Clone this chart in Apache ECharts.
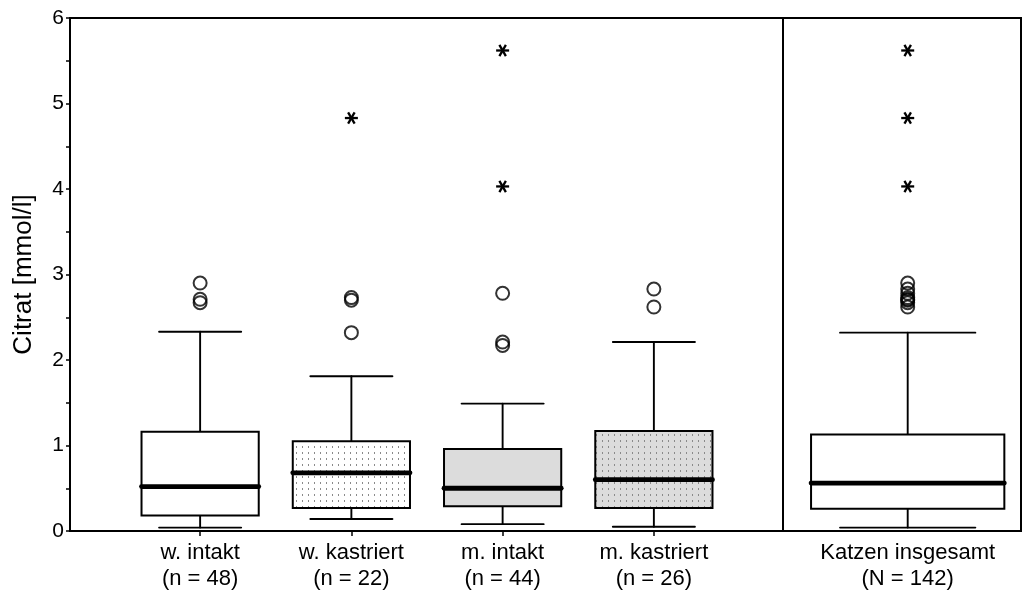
<!DOCTYPE html>
<html><head><meta charset="utf-8">
<script src="https://cdn.jsdelivr.net/npm/echarts@6/dist/echarts.min.js"></script>
<style>html,body{margin:0;padding:0;background:#fff}#c{width:1023px;height:595px}</style>
</head><body><div id="c"></div>
<script>
// ---- data ----
const groupCategories = ['w. intakt\n(n = 48)', 'w. kastriert\n(n = 22)', 'm. intakt\n(n = 44)', 'm. kastriert\n(n = 26)'];
// [min, Q1, median, Q3, max]
const groupBoxes = [
  [0.04, 0.18, 0.52, 1.16, 2.33],
  [0.14, 0.27, 0.68, 1.05, 1.81],
  [0.08, 0.29, 0.50, 0.96, 1.49],
  [0.05, 0.27, 0.60, 1.17, 2.21]
];
const groupOutliers = [[2.90, 2.71, 2.67], [2.73, 2.70, 2.32], [2.78, 2.21, 2.17], [2.83, 2.62]];
const groupExtremes = [[], [4.83], [5.62, 4.03], []];
const totalCategories = ['Katzen insgesamt\n(N = 142)'];
const totalBoxes = [[0.04, 0.26, 0.56, 1.13, 2.32]];
const totalOutliers = [[2.90, 2.83, 2.78, 2.73, 2.71, 2.70, 2.67, 2.62]];
const totalExtremes = [[5.62, 4.83, 4.03]];
const yTicks = [0, 1, 2, 3, 4, 5, 6];
const yTitle = 'Citrat [mmol/l]';

// ---- styles ----
const FONT = '"Liberation Sans", Arial, Helvetica, sans-serif';
function dotPattern(bg) {
  const c = document.createElement('canvas');
  c.width = 6; c.height = 6;
  const g = c.getContext('2d');
  g.fillStyle = bg; g.fillRect(0, 0, 6, 6);
  g.fillStyle = '#8a8a8a'; g.fillRect(2, 2, 1, 2);
  return { image: c, repeat: 'repeat' };
}
const groupFills = ['#ffffff', dotPattern('#ffffff'), '#dcdcdc', dotPattern('#dcdcdc')];
const totalFills = ['#ffffff'];

function boxData(boxes) { return boxes.map((b, i) => [i].concat(b)); }
function pointData(lists) {
  const out = [];
  lists.forEach((l, i) => l.forEach(v => out.push([i, v])));
  return out;
}

function makeBoxRender(fills) {
  return function (params, api) {
    const x = api.value(0);
    const mn = api.value(1), q1 = api.value(2), md = api.value(3), q3 = api.value(4), mx = api.value(5);
    const band = api.size([1, 0])[0];
    const bw = band * 0.775, cw = bw * 0.70;
    const cx = api.coord([x, 0])[0];
    const py = v => api.coord([x, v])[1];
    const ln = (x1, y1, x2, y2, w) => ({ type: 'line', shape: { x1, y1, x2, y2 }, style: { stroke: '#000', lineWidth: w, lineCap: 'round' } });
    return {
      type: 'group',
      children: [
        ln(cx, py(q3), cx, py(mx), 1.9),
        ln(cx, py(mn), cx, py(q1), 1.9),
        ln(cx - cw / 2, py(mx), cx + cw / 2, py(mx), 1.9),
        ln(cx - cw / 2, py(mn), cx + cw / 2, py(mn), 1.9),
        { type: 'rect', shape: { x: cx - bw / 2, y: py(q3), width: bw, height: py(q1) - py(q3) },
          style: { fill: fills[x], stroke: '#000', lineWidth: 2 } },
        ln(cx - bw / 2, py(md), cx + bw / 2, py(md), 4.8)
      ]
    };
  };
}
function starRender(params, api) {
  const p = api.coord([api.value(0), api.value(1)]);
  const r = 6.5;
  const a = Math.PI / 3;
  const seg = ang => ({ type: 'line', shape: { x1: p[0] - r * Math.cos(ang), y1: p[1] - r * Math.sin(ang), x2: p[0] + r * Math.cos(ang), y2: p[1] + r * Math.sin(ang) }, style: { stroke: '#000', lineWidth: 2.3 } });
  return { type: 'group', children: [seg(0), seg(a), seg(-a)] };
}

const TOP = 18, HEIGHT = 513;
const yMin = yTicks[0], yMax = yTicks[yTicks.length - 1];
const hiddenY = i => ({ gridIndex: i, type: 'value', min: yMin, max: yMax, show: false });
const hiddenX = i => ({ gridIndex: i, type: 'category', data: [''], show: false });
const labelX = (i, data, tick) => ({
  gridIndex: i, type: 'category', data,
  axisLine: { show: false },
  axisTick: { show: tick, alignWithLabel: true, length: 5, lineStyle: { color: '#000', width: 1.5 } },
  axisLabel: { color: '#000', fontSize: 22, fontFamily: FONT, lineHeight: 26, margin: 9, interval: 0 },
  splitLine: { show: false }
});
const gridBase = { top: TOP, height: HEIGHT, containLabel: false, outerBoundsMode: 'none' };

const option = {
  animation: false,
  backgroundColor: '#fff',
  grid: [
    Object.assign({ left: 70, width: 713, show: true, borderColor: '#000', borderWidth: 2, backgroundColor: 'transparent' }, gridBase),
    Object.assign({ left: 783, width: 238, show: true, borderColor: '#000', borderWidth: 2, backgroundColor: 'transparent' }, gridBase),
    Object.assign({ left: 124.5, width: 605 }, gridBase),
    Object.assign({ left: 783, width: 249.4 }, gridBase)
  ],
  xAxis: [hiddenX(0), hiddenX(1), labelX(2, groupCategories, true), labelX(3, totalCategories, false)],
  yAxis: [
    {
      gridIndex: 0, type: 'value', min: yMin, max: yMax, interval: 1,
      name: yTitle, nameLocation: 'middle', nameRotate: 90, nameGap: 33,
      nameTextStyle: { color: '#000', fontSize: 26, fontFamily: FONT },
      axisLine: { show: true, lineStyle: { color: '#000', width: 2 } },
      axisTick: { show: true, length: 4, lineStyle: { color: '#000', width: 1.5 } },
      minorTick: { show: true, splitNumber: 2, length: 4, lineStyle: { color: '#000', width: 1.5 } },
      axisLabel: { color: '#000', fontSize: 21, fontFamily: FONT, margin: 6 },
      splitLine: { show: false }
    },
    hiddenY(1), hiddenY(2), hiddenY(3)
  ],
  series: [
    { type: 'custom', xAxisIndex: 2, yAxisIndex: 2, renderItem: makeBoxRender(groupFills), data: boxData(groupBoxes), z: 2 },
    { type: 'custom', xAxisIndex: 3, yAxisIndex: 3, renderItem: makeBoxRender(totalFills), data: boxData(totalBoxes), z: 2 },
    { type: 'scatter', xAxisIndex: 2, yAxisIndex: 2, data: pointData(groupOutliers), symbol: 'circle', symbolSize: 13,
      itemStyle: { color: 'rgba(0,0,0,0)', borderColor: '#000', borderWidth: 2 }, z: 3 },
    { type: 'scatter', xAxisIndex: 3, yAxisIndex: 3, data: pointData(totalOutliers), symbol: 'circle', symbolSize: 13,
      itemStyle: { color: 'rgba(0,0,0,0)', borderColor: '#000', borderWidth: 2 }, z: 3 },
    { type: 'custom', xAxisIndex: 2, yAxisIndex: 2, renderItem: starRender, data: pointData(groupExtremes), z: 3 },
    { type: 'custom', xAxisIndex: 3, yAxisIndex: 3, renderItem: starRender, data: pointData(totalExtremes), z: 3 }
  ]
};
const chart = echarts.init(document.getElementById('c'), null, { renderer: 'canvas' });
chart.setOption(option);
</script>
</body></html>
